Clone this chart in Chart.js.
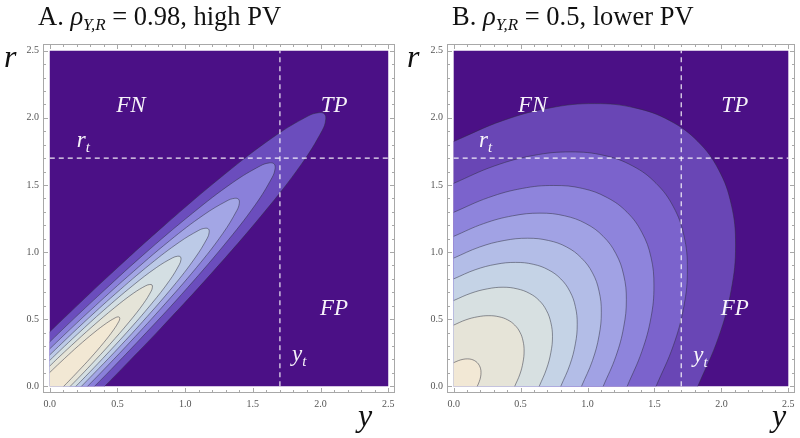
<!DOCTYPE html>
<html>
<head>
<meta charset="utf-8">
<script src="https://cdn.jsdelivr.net/npm/chart.js@4.4.1/dist/chart.umd.min.js"></script>
<style>
  html, body { margin: 0; padding: 0; background: #fff; }
  #wrap { position: relative; width: 800px; height: 438px; }
  #wrap canvas { position: absolute; top: 0; }
</style>
</head>
<body>
<div id="wrap">
  <canvas id="chart-a" width="400" height="438" style="left:0"></canvas>
  <canvas id="chart-b" width="400" height="438" style="left:400px"></canvas>
</div>
<script>
// thresholds and axis
const yThreshold = 1.7;
const rThreshold = 1.7;
const axisTicks = [0, 0.5, 1, 1.5, 2, 2.5];
const plotBox = [[0, 0], [0, 2.5], [2.5, 2.5], [2.5, 0]];

// panel A (rho = 0.98): contour lines, [y, r], outer -> inner
const a1 = [[0, 0.406], [0.152, 0.553], [0.433, 0.821], [0.838, 1.191], [1.291, 1.579], [1.655, 1.859], [1.907, 2.013], [1.985, 2.038], [2.029, 2.029], [2.038, 1.985], [2.013, 1.907], [1.859, 1.655], [1.579, 1.291], [1.191, 0.838], [0.821, 0.433], [0.553, 0.152], [0.406, 0]];
const a2 = [[0, 0.331], [0.124, 0.452], [0.354, 0.670], [0.684, 0.973], [1.054, 1.289], [1.352, 1.518], [1.557, 1.643], [1.621, 1.664], [1.657, 1.657], [1.664, 1.621], [1.643, 1.557], [1.518, 1.352], [1.289, 1.054], [0.973, 0.684], [0.670, 0.354], [0.452, 0.124], [0.331, 0]];
const a3 = [[0, 0.279], [0.104, 0.380], [0.298, 0.564], [0.576, 0.818], [0.886, 1.085], [1.137, 1.277], [1.310, 1.382], [1.363, 1.400], [1.394, 1.394], [1.400, 1.363], [1.382, 1.310], [1.277, 1.137], [1.085, 0.886], [0.818, 0.576], [0.564, 0.298], [0.380, 0.104], [0.279, 0]];
const a4 = [[0, 0.234], [0.088, 0.319], [0.250, 0.474], [0.484, 0.688], [0.745, 0.912], [0.956, 1.073], [1.101, 1.162], [1.146, 1.177], [1.172, 1.172], [1.177, 1.146], [1.162, 1.101], [1.073, 0.956], [0.912, 0.745], [0.688, 0.484], [0.474, 0.250], [0.319, 0.088], [0.234, 0]];
const a5 = [[0, 0.193], [0.072, 0.263], [0.206, 0.390], [0.398, 0.566], [0.614, 0.751], [0.787, 0.884], [0.907, 0.957], [0.944, 0.969], [0.965, 0.965], [0.969, 0.944], [0.957, 0.907], [0.884, 0.787], [0.751, 0.614], [0.566, 0.398], [0.390, 0.206], [0.263, 0.072], [0.193, 0]];
const a6 = [[0, 0.151], [0.056, 0.206], [0.161, 0.305], [0.312, 0.443], [0.480, 0.587], [0.616, 0.692], [0.709, 0.749], [0.738, 0.758], [0.755, 0.755], [0.758, 0.738], [0.749, 0.709], [0.692, 0.616], [0.587, 0.480], [0.443, 0.312], [0.305, 0.161], [0.206, 0.056], [0.151, 0]];
const a7 = [[0, 0.103], [0.038, 0.140], [0.110, 0.208], [0.212, 0.302], [0.327, 0.400], [0.420, 0.471], [0.483, 0.510], [0.503, 0.517], [0.514, 0.514], [0.517, 0.503], [0.510, 0.483], [0.471, 0.420], [0.400, 0.327], [0.302, 0.212], [0.208, 0.110], [0.140, 0.038], [0.103, 0]];
const colorsA = ['#4b1086', '#6b4dbd', '#8a80da', '#a3a6e5', '#bccae7', '#d4dfe3', '#e5e4d8', '#f2e8d4'];

// panel B (rho = 0.5)
const b1 = [[0, 1.824], [0.366, 1.979], [0.720, 2.074], [1.053, 2.106], [1.354, 2.074], [1.614, 1.979], [1.824, 1.824], [1.979, 1.614], [2.074, 1.354], [2.106, 1.053], [2.074, 0.720], [1.979, 0.366], [1.824, 0]];
const b2 = [[0, 1.512], [0.303, 1.641], [0.597, 1.720], [0.873, 1.746], [1.123, 1.720], [1.338, 1.641], [1.512, 1.512], [1.641, 1.338], [1.720, 1.123], [1.746, 0.873], [1.720, 0.597], [1.641, 0.303], [1.512, 0]];
const b3 = [[0, 1.296], [0.260, 1.406], [0.512, 1.474], [0.748, 1.496], [0.962, 1.474], [1.146, 1.406], [1.296, 1.296], [1.406, 1.146], [1.474, 0.962], [1.496, 0.748], [1.474, 0.512], [1.406, 0.260], [1.296, 0]];
const b4 = [[0, 1.117], [0.224, 1.212], [0.441, 1.270], [0.645, 1.290], [0.829, 1.270], [0.988, 1.212], [1.117, 1.117], [1.212, 0.988], [1.270, 0.829], [1.290, 0.645], [1.270, 0.441], [1.212, 0.224], [1.117, 0]];
const b5 = [[0, 0.955], [0.192, 1.037], [0.377, 1.086], [0.552, 1.103], [0.709, 1.086], [0.845, 1.037], [0.955, 0.955], [1.037, 0.845], [1.086, 0.709], [1.103, 0.552], [1.086, 0.377], [1.037, 0.192], [0.955, 0]];
const b6 = [[0, 0.800], [0.160, 0.868], [0.316, 0.909], [0.462, 0.923], [0.594, 0.909], [0.707, 0.868], [0.800, 0.800], [0.868, 0.707], [0.909, 0.594], [0.923, 0.462], [0.909, 0.316], [0.868, 0.160], [0.800, 0]];
const b7 = [[0, 0.639], [0.128, 0.693], [0.252, 0.726], [0.369, 0.738], [0.474, 0.726], [0.565, 0.693], [0.639, 0.639], [0.693, 0.565], [0.726, 0.474], [0.738, 0.369], [0.726, 0.252], [0.693, 0.128], [0.639, 0]];
const b8 = [[0, 0.456], [0.091, 0.495], [0.180, 0.518], [0.263, 0.526], [0.338, 0.518], [0.403, 0.495], [0.456, 0.456], [0.495, 0.403], [0.518, 0.338], [0.526, 0.263], [0.518, 0.180], [0.495, 0.091], [0.456, 0]];
const b9 = [[0, 0.176], [0.035, 0.191], [0.070, 0.201], [0.102, 0.204], [0.131, 0.201], [0.156, 0.191], [0.176, 0.176], [0.191, 0.156], [0.201, 0.131], [0.204, 0.102], [0.201, 0.070], [0.191, 0.035], [0.176, 0]];
const colorsB = ['#4b1086', '#6946b5', '#7b63cc', '#8e84dc', '#a1a2e4', '#b3bde7', '#c5d3e6', '#d7e0e1', '#e6e4d8', '#f2e8d5'];

const SERIF = '"Liberation Serif", "Times New Roman", serif';
const LINE_COLOR = 'rgba(45,45,60,0.55)';
const DASH_COLOR = 'rgba(255,255,255,0.9)';
const TENSION = 0.4;

const pts = arr => arr.map(([y, r]) => ({x: y, y: r}));

function buildDatasets(contours, colors) {
  const ds = [];
  ds.push({data: pts(plotBox), fill: 'shape', backgroundColor: colors[0], borderWidth: 0, tension: 0});
  // filled regions: curve, then down the axes to the corner (doubled points keep the corner edges straight)
  contours.forEach((c, i) => {
    const closed = c.concat([c[c.length - 1], [0, 0], [0, 0]]);
    ds.push({data: pts(closed), fill: 'shape', backgroundColor: colors[i + 1], borderWidth: 0, tension: TENSION});
  });
  contours.forEach(c => {
    ds.push({data: pts(c), fill: false, borderColor: LINE_COLOR, borderWidth: 0.9, tension: TENSION});
  });
  ds.push({data: pts([[yThreshold, 0], [yThreshold, 2.5]]), fill: false, borderColor: DASH_COLOR, borderWidth: 1.2, borderDash: [5, 4]});
  ds.push({data: pts([[0, rThreshold], [2.5, rThreshold]]), fill: false, borderColor: DASH_COLOR, borderWidth: 1.2, borderDash: [5, 4]});
  // first pushed is drawn first
  ds.forEach((d, i) => { d.order = -i; d.pointRadius = 0; d.pointHoverRadius = 0; });
  return ds;
}

function drawRuns(ctx, x, y, runs) {
  runs.forEach(([text, font, dy]) => {
    ctx.font = font;
    ctx.fillText(text, x, y + (dy || 0));
    x += ctx.measureText(text).width;
  });
}

// Mathematica style frame with inward ticks
const framePlugin = {
  id: 'frame',
  afterDatasetsDraw(chart) {
    const {ctx, chartArea: a, scales: {x, y}} = chart;
    ctx.save();
    ctx.strokeStyle = '#a8a8a8';
    ctx.lineWidth = 1;
    ctx.strokeRect(a.left + 0.5, a.top + 0.5, a.right - a.left - 1, a.bottom - a.top - 1);
    ctx.beginPath();
    for (let i = 0; i <= 25; i++) {
      const len = i % 5 === 0 ? 5 : 3;
      const px = Math.round(x.getPixelForValue(i / 10)) + 0.5;
      const py = Math.round(y.getPixelForValue(i / 10)) + 0.5;
      ctx.moveTo(px, a.bottom); ctx.lineTo(px, a.bottom - len);
      ctx.moveTo(px, a.top); ctx.lineTo(px, a.top + len);
      ctx.moveTo(a.left, py); ctx.lineTo(a.left + len, py);
      ctx.moveTo(a.right, py); ctx.lineTo(a.right - len, py);
    }
    ctx.stroke();
    ctx.restore();
  }
};

// titles, axis letters and region labels
const textPlugin = {
  id: 'texts',
  afterDraw(chart) {
    const cfg = chart.options.plugins.texts;
    const {ctx, scales: {x, y}} = chart;
    ctx.save();
    ctx.textBaseline = 'alphabetic';
    ctx.textAlign = 'left';
    ctx.fillStyle = '#111';
    drawRuns(ctx, cfg.titleX, 25, cfg.title);
    ctx.font = 'italic 32px ' + SERIF;
    ctx.fillText('r', cfg.rLabel[0], cfg.rLabel[1]);
    ctx.fillText('y', cfg.yLabel[0], cfg.yLabel[1]);

    ctx.fillStyle = 'rgba(255,255,255,0.95)';
    const big = 'italic 23px ' + SERIF;
    const small = 'italic 15px ' + SERIF;
    cfg.regions.forEach(([text, vy, vr]) => {
      ctx.font = big;
      const w = ctx.measureText(text).width;
      ctx.fillText(text, x.getPixelForValue(vy) - w / 2, y.getPixelForValue(vr));
    });
    drawRuns(ctx, x.getPixelForValue(cfg.rt[0]), y.getPixelForValue(cfg.rt[1]), [['r', big], ['t', small, 5]]);
    drawRuns(ctx, x.getPixelForValue(cfg.yt[0]), y.getPixelForValue(cfg.yt[1]), [['y', big], ['t', small, 5]]);
    ctx.restore();
  }
};

function makeChart(id, contours, colors, axisWidth, texts) {
  const tickFont = {family: SERIF, size: 10};
  new Chart(document.getElementById(id), {
    type: 'line',
    data: {datasets: buildDatasets(contours, colors)},
    plugins: [framePlugin, textPlugin],
    options: {
      responsive: false,
      animation: false,
      events: [],
      layout: {padding: {top: 44, right: 5, left: 0, bottom: 0}},
      plugins: {legend: {display: false}, tooltip: {enabled: false}, texts},
      scales: {
        x: {
          type: 'linear', min: -0.05, max: 2.55,
          afterFit: s => { s.height = 45; },
          afterBuildTicks: s => { s.ticks = axisTicks.map(v => ({value: v})); },
          grid: {display: false, drawTicks: false},
          border: {display: false},
          ticks: {callback: v => v.toFixed(1), font: tickFont, color: '#555', padding: 5, maxRotation: 0, autoSkip: false}
        },
        y: {
          type: 'linear', min: -0.05, max: 2.55,
          afterFit: s => { s.width = axisWidth; },
          afterBuildTicks: s => { s.ticks = axisTicks.map(v => ({value: v})); },
          grid: {display: false, drawTicks: false},
          border: {display: false},
          ticks: {callback: v => v.toFixed(1), font: tickFont, color: '#555', padding: 4, autoSkip: false}
        }
      }
    }
  });
}

const regular = '26.5px ' + SERIF;
const italic = 'italic 26.5px ' + SERIF;
const sub = 'italic 17px ' + SERIF;

makeChart('chart-a', [a1, a2, a3, a4, a5, a6, a7], colorsA, 43, {
  titleX: 38,
  title: [['A. ', regular], ['ρ', italic], ['Y,R', sub, 5], [' = 0.98, high PV', regular]],
  rLabel: [4, 67], yLabel: [358, 426],
  regions: [['FN', 0.60, 2.04], ['TP', 2.10, 2.04], ['FP', 2.10, 0.53]],
  rt: [0.20, 1.78], yt: [1.79, 0.19]
});

makeChart('chart-b', [b1, b2, b3, b4, b5, b6, b7, b8, b9], colorsB, 47, {
  titleX: 52,
  title: [['B. ', regular], ['ρ', italic], ['Y,R', sub, 5], [' = 0.5, lower PV', regular]],
  rLabel: [7, 67], yLabel: [372, 426],
  regions: [['FN', 0.59, 2.04], ['TP', 2.10, 2.04], ['FP', 2.10, 0.53]],
  rt: [0.19, 1.78], yt: [1.79, 0.18]
});
</script>
</body>
</html>
